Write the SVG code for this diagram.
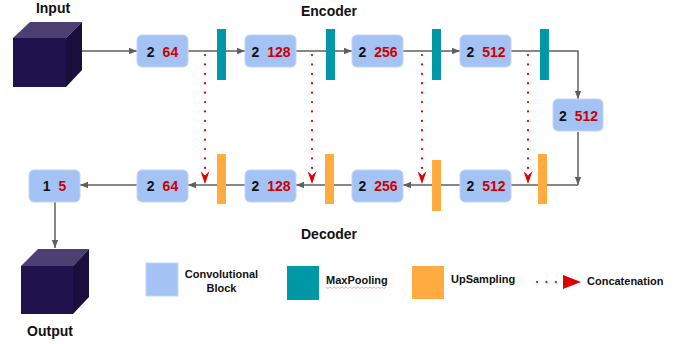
<svg xmlns="http://www.w3.org/2000/svg" width="687" height="344" viewBox="0 0 687 344">
<style>
.t{font-family:"Liberation Sans",Arial,sans-serif;font-weight:bold;fill:#111}
.title{font-size:14px;text-anchor:middle}
.lg{font-size:11px}
.blk rect{fill:#a4c2f4;stroke:#c2d5f7;stroke-width:1}
.blk text{font-family:"Liberation Sans",Arial,sans-serif;font-weight:bold;font-size:14px;text-anchor:middle;fill:#111}
.red{fill:#cc0000}
.mp{fill:#0097a7}
.up{fill:#ffab40}
.ln{fill:none;stroke:#5f5f5f;stroke-width:1.5}
.cat{fill:none;stroke:#dd0000;stroke-width:2.2;stroke-linecap:round;stroke-dasharray:0.1 9.3}
.front{fill:#20124d}
.top{fill:#4c3f72}
.side{fill:#190e3c}
</style>
<defs>
<marker id="ah" viewBox="0 0 10 10" refX="10" refY="5" markerWidth="8" markerHeight="8" markerUnits="userSpaceOnUse" orient="auto">
<path d="M0,1 L10,5 L0,9 Z" fill="#5f5f5f"/>
</marker>
<marker id="rh" viewBox="0 0 13 9" refX="13" refY="4.5" markerWidth="13" markerHeight="9" markerUnits="userSpaceOnUse" orient="auto">
<path d="M0,0 L13,4.5 L0,9 L4.5,4.5 Z" fill="#dd0000"/>
</marker>
</defs>

<g id="input">
<polygon class="front" points="13,38 66,38 66,87 13,87"/>
<polygon class="top" points="13,38 30,22 82,22 66,38"/>
<polygon class="side" points="66,38 82,22 82,70 66,87"/>
<text class="t title" x="53" y="13">Input</text>
</g>
<g id="output">
<polygon class="front" points="21,266 73,266 73,314 21,314"/>
<polygon class="top" points="21,266 38,249 89,249 73,266"/>
<polygon class="side" points="73,266 89,249 89,297 73,314"/>
<text class="t title" x="50" y="336">Output</text>
</g>
<text class="t title" x="329" y="16">Encoder</text>
<text class="t title" x="329" y="239">Decoder</text>

<g id="connectors">
<line class="ln" x1="82" y1="51" x2="137" y2="51" marker-end="url(#ah)"/>
<line class="ln" x1="188" y1="51" x2="245" y2="51" marker-end="url(#ah)"/>
<line class="ln" x1="296" y1="51" x2="352" y2="51" marker-end="url(#ah)"/>
<line class="ln" x1="403" y1="51" x2="460" y2="51" marker-end="url(#ah)"/>
<path class="ln" d="M511,51 H578 V99" marker-end="url(#ah)"/>
<path class="ln" d="M578,132 V185" marker-end="url(#ah)"/>
<line class="ln" x1="578" y1="185" x2="511" y2="185"/>
<line class="ln" x1="460" y1="185" x2="403" y2="185" marker-end="url(#ah)"/>
<line class="ln" x1="352" y1="185" x2="296" y2="185" marker-end="url(#ah)"/>
<line class="ln" x1="245" y1="185" x2="188" y2="185" marker-end="url(#ah)"/>
<line class="ln" x1="137" y1="185" x2="80" y2="185" marker-end="url(#ah)"/>
<line class="ln" x1="55" y1="202" x2="55" y2="248" marker-end="url(#ah)"/>
<line class="cat" x1="205" y1="55" x2="205" y2="170"/>
<line x1="205" y1="170" x2="205" y2="184" stroke="none" marker-end="url(#rh)"/>
<line class="cat" x1="312" y1="55" x2="312" y2="170"/>
<line x1="312" y1="170" x2="312" y2="184" stroke="none" marker-end="url(#rh)"/>
<line class="cat" x1="422" y1="55" x2="422" y2="170"/>
<line x1="422" y1="170" x2="422" y2="184" stroke="none" marker-end="url(#rh)"/>
<line class="cat" x1="528" y1="55" x2="528" y2="170"/>
<line x1="528" y1="170" x2="528" y2="184" stroke="none" marker-end="url(#rh)"/>
</g>

<g id="mp1"><rect class="mp" x="217" y="29" width="9" height="51"/></g>
<g id="mp2"><rect class="mp" x="326" y="29" width="9" height="51"/></g>
<g id="mp3"><rect class="mp" x="432" y="29" width="9" height="51"/></g>
<g id="mp4"><rect class="mp" x="540" y="29" width="9" height="51"/></g>
<g id="up1"><rect class="up" x="217" y="154" width="9" height="50"/></g>
<g id="up2"><rect class="up" x="325" y="154" width="9" height="50"/></g>
<g id="up3"><rect class="up" x="432" y="160" width="9" height="51"/></g>
<g id="up4"><rect class="up" x="538" y="154" width="9" height="50"/></g>

<g id="enc1" class="blk"><rect x="137" y="35" width="51" height="32" rx="5"/><text x="162.5" y="56.5">2<tspan class="red" dx="8">64</tspan></text></g>
<g id="enc2" class="blk"><rect x="245" y="35" width="51" height="32" rx="5"/><text x="271" y="56.5">2<tspan class="red" dx="8">128</tspan></text></g>
<g id="enc3" class="blk"><rect x="352" y="35" width="51" height="32" rx="5"/><text x="378" y="56.5">2<tspan class="red" dx="8">256</tspan></text></g>
<g id="enc4" class="blk"><rect x="460" y="35" width="51" height="32" rx="5"/><text x="486" y="56.5">2<tspan class="red" dx="8">512</tspan></text></g>
<g id="bottleneck" class="blk"><rect x="553" y="99" width="50" height="32" rx="5"/><text x="578.5" y="120.5">2<tspan class="red" dx="8">512</tspan></text></g>
<g id="dec4" class="blk"><rect x="460" y="170" width="51" height="32" rx="5"/><text x="486" y="191">2<tspan class="red" dx="8">512</tspan></text></g>
<g id="dec3" class="blk"><rect x="352" y="170" width="51" height="32" rx="5"/><text x="378" y="191">2<tspan class="red" dx="8">256</tspan></text></g>
<g id="dec2" class="blk"><rect x="245" y="170" width="51" height="32" rx="5"/><text x="271" y="191">2<tspan class="red" dx="8">128</tspan></text></g>
<g id="dec1" class="blk"><rect x="137" y="170" width="51" height="32" rx="5"/><text x="162.5" y="191">2<tspan class="red" dx="8">64</tspan></text></g>
<g id="final" class="blk"><rect x="29" y="170" width="51" height="32" rx="5"/><text x="54.5" y="191">1<tspan class="red" dx="8">5</tspan></text></g>

<g id="legend">
<rect x="146" y="263" width="32" height="33" fill="#a4c2f4" stroke="#c2d5f7"/>
<text class="t lg" x="221.5" y="278" text-anchor="middle">Convolutional</text>
<text class="t lg" x="221.5" y="292" text-anchor="middle">Block</text>
<rect class="mp" x="287" y="266" width="32" height="34"/>
<text class="t lg" x="326" y="284">MaxPooling</text>
<path d="M326,287 l2,1.5 l2,-1.5 l2,1.5 l2,-1.5 l2,1.5 l2,-1.5 l2,1.5 l2,-1.5 l2,1.5 l2,-1.5 l2,1.5 l2,-1.5 l2,1.5 l2,-1.5 l2,1.5 l2,-1.5 l2,1.5 l2,-1.5 l2,1.5 l2,-1.5 l2,1.5 l2,-1.5 l2,1.5 l2,-1.5 l2,1.5 l2,-1.5 l2,1.5 l2,-1.5 l2,1.5 l2,-1.5" fill="none" stroke="#f0a0a0" stroke-width="0.8"/>
<rect class="up" x="412" y="266" width="32" height="33"/>
<text class="t lg" x="451" y="283">UpSampling</text>
<line class="cat" x1="537" y1="282" x2="557" y2="282"/>
<path d="M563,275 L581,282 L563,289 Z" fill="#dd0000"/>
<text class="t lg" x="587" y="285">Concatenation</text>
</g>
</svg>
